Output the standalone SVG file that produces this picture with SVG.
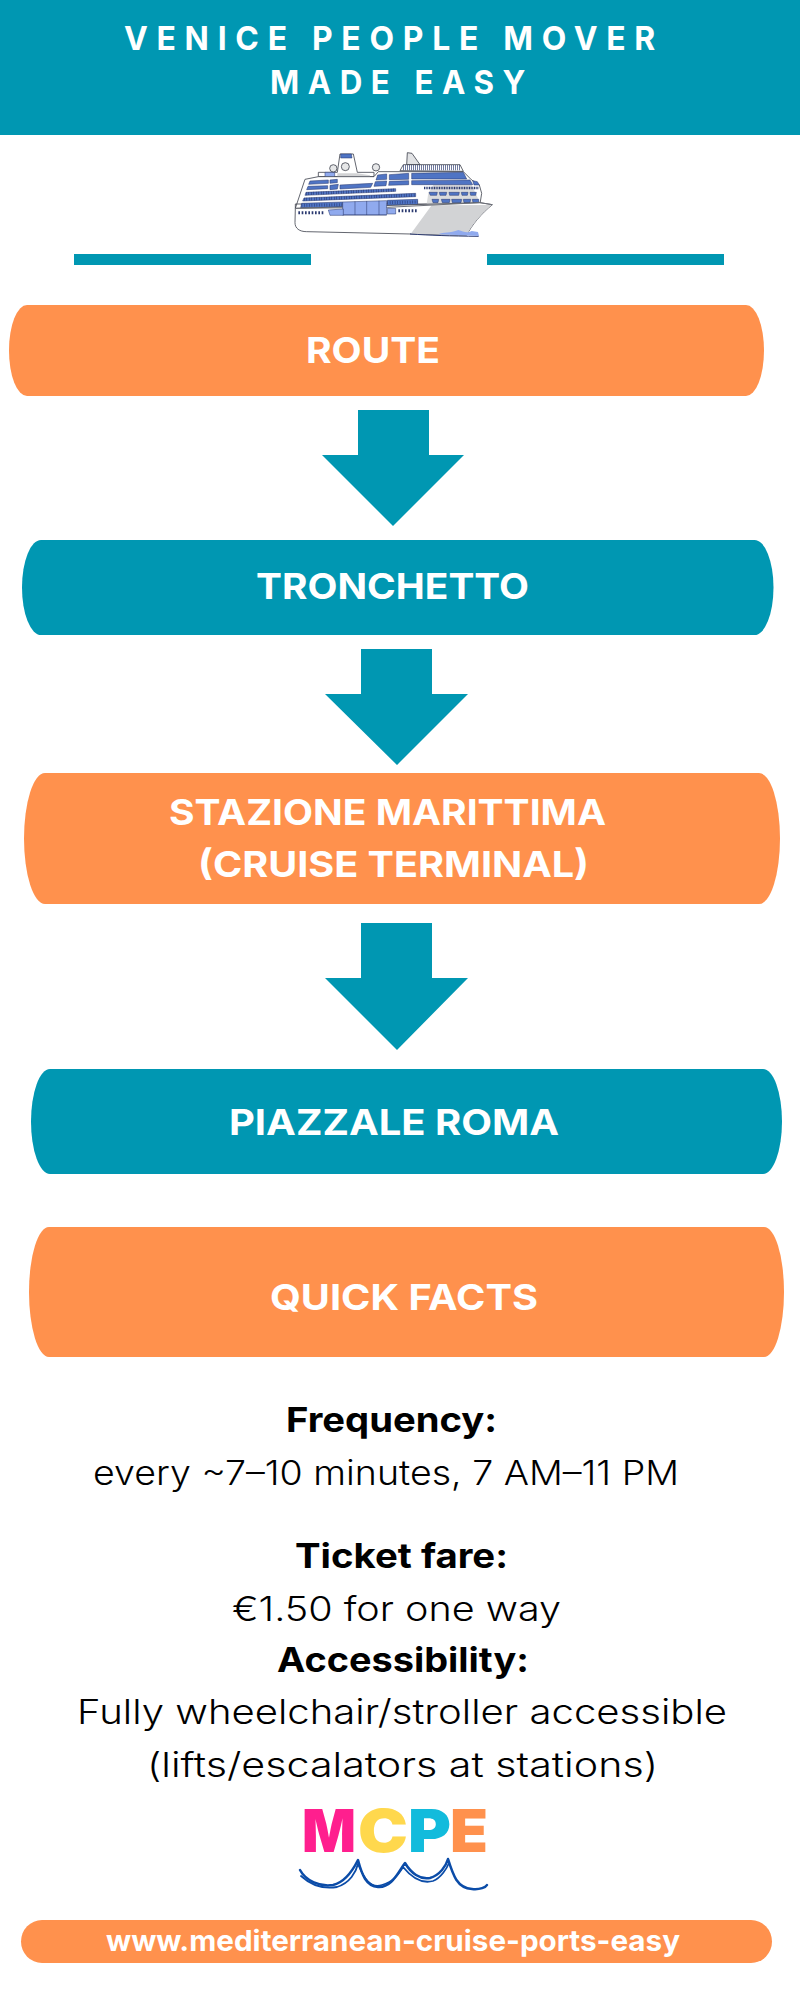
<svg xmlns="http://www.w3.org/2000/svg" width="800" height="2000" viewBox="0 0 800 2000">
<style>
text{font-family:"Inter","Open Sans","Liberation Sans",sans-serif}
.teal{fill:#0097b2}.orange{fill:#ff914d}
.h{fill:#fff;font-size:33px;font-weight:700;letter-spacing:9px}
.p{fill:#fff;font-size:36px;font-weight:700}
.b{fill:#000;font-size:34px;font-weight:700}
.r{fill:#000;font-size:34px;font-weight:300}
.u{fill:#fff;font-size:29px;font-weight:700}
.m{font-size:59px;font-weight:900}
.s{stroke:#3b3f4a;stroke-width:2.4;stroke-linejoin:round;fill:#fff}
.w{fill:#4f74c4;stroke:#2b3a70;stroke-width:1.6;stroke-linejoin:round}
.l{fill:#90aaee;stroke:#2b3a70;stroke-width:1.6}
.g{fill:#d2d3d5}
.wave{fill:none;stroke:#0b4ca8;stroke-linecap:round;stroke-linejoin:round}
</style>
<rect width="800" height="2000" fill="#fff"/>
<g id="header">
<rect class="teal" width="800" height="135"/>
<text class="h" x="124" y="50" textLength="540" lengthAdjust="spacingAndGlyphs">VENICE PEOPLE MOVER</text>
<text class="h" x="270" y="94" textLength="264" lengthAdjust="spacingAndGlyphs">MADE EASY</text>
</g>
<g id="ship" transform="translate(250 130) scale(.33333)">
<path class="s" d="M205,140V127H262L270,72H310L322,127H372V140Z"/>
<path class="w" d="M272,72H304L306,84H272Z"/>
<path class="l" d="M225,127H254V142H225Z"/>
<path class="g" d="M262,130H322L360,136V148H262Z"/>
<circle class="s" cx="250" cy="115" r="11" style="fill:#e6e7e8"/>
<circle class="s" cx="286" cy="110" r="12" style="fill:#e6e7e8"/>
<circle class="s" cx="378" cy="112" r="11" style="fill:#e6e7e8"/>
<path class="s" d="M472,68L486,70L510,104H470Z" style="fill:#e2e3e5"/>
<path class="s" d="M136,235L165,148L205,140L372,140L385,125H640L665,150L688,165L695,190L690,222H136Z"/>
<path class="s" d="M450,122L460,104H630L640,124Z"/>
<path d="M460,113H630" fill="none" stroke="#2b3a70" stroke-width="16" stroke-dasharray="2 4"/>
<path class="g" d="M535,190L550,165H665L692,222H530Z" opacity=".8"/>
<path class="w" d="M180,153L235,150V160L176,163Z"/>
<path class="w" d="M240,150L262,148V158L240,160Z"/>
<path class="w" d="M174,169L233,167V176L170,179Z"/>
<path class="w" d="M240,166L265,163L262,177L240,179Z"/>
<path class="w" d="M270,165L368,160L362,172L270,177Z"/>
<path class="w" d="M383,135L410,132V148L378,150Z"/>
<path class="w" d="M418,134L476,130V148L418,149Z"/>
<path class="w" d="M376,155L410,153L408,167L372,169Z"/>
<path class="w" d="M418,154L476,152V164L416,166Z"/>
<path class="w" d="M485,130L640,127L650,147H485Z"/>
<path class="w" d="M485,152L660,150L668,164H485Z"/>
<path class="w" d="M668,152L682,155L688,165L672,165Z"/>
<path class="w" d="M168,187L437,176V184L165,196Z"/>
<path class="w" d="M162,204L497,190V200L158,213Z"/>
<path class="w" d="M155,220L278,216V232L152,233Z"/>
<path class="w" d="M412,211L503,208V224L412,226Z"/>
<path d="M168,191L437,180M162,208L497,195M155,226L278,224M412,218L503,216" fill="none" stroke="#233066" stroke-width="9" stroke-dasharray="1.5 6"/>
<path d="M522,174H685" fill="none" stroke="#2b3a70" stroke-width="8" stroke-dasharray="3 2"/>
<path class="w" d="M537,187H562L560,196H541ZM568,187H590L588,196H570ZM597,187H628L626,196H599ZM634,187H654L652,196H636ZM660,187H679L677,196H662Z"/>
<path class="w" d="M546,208H566L564,218H549ZM574,208H600L598,218H577ZM605,208H635L633,218H607ZM640,208H662L660,218H642ZM667,208H686V218H669Z"/>
<path class="s" d="M136,235L690,218L727,224C695,250 665,285 650,316L480,312L170,305C148,305 135,295 135,278Z"/>
<path class="g" d="M545,226L725,225C695,250 665,285 650,315L482,312Z"/>
<path class="s" d="M136,235L412,232L690,218L727,224" style="fill:none;stroke:#6d7078;stroke-width:3"/>
<path class="l" d="M278,216L410,212V255H278Z"/>
<path d="M315,214V255M350,213V255M387,212V255M278,255H410" fill="none" stroke="#2b3a70" stroke-width="1.6"/>
<path class="l" d="M235,240L280,237V256H240Z"/>
<path class="l" d="M412,235H437V252H412Z"/>
<path d="M145,248H224M445,242H502" fill="none" stroke="#2b3a70" stroke-width="9" stroke-dasharray="5 5"/>
<path d="M480,312C540,316 600,318 686,319" fill="none" stroke="#2b3a70" stroke-width="3"/>
<path d="M565,313C580,305 600,310 625,300C640,303 650,312 665,303L684,306L687,318Z" fill="#90aaee"/>
</g>
<g id="title-rules" class="teal">
<rect x="74" y="254" width="237" height="11"/>
<rect x="487" y="254" width="237" height="11"/>
</g>
<g id="connectors" class="teal">
<path d="M358,410H429V455H464L393,526L322,455H358Z"/>
<path d="M361,649H432V694H468L397,765L325,694H361Z"/>
<path d="M361,923H432V978H468L397,1050L325,978H361Z"/>
</g>
<g id="route">
<rect class="orange" x="9" y="305" width="755" height="91" rx="18" ry="45.500"/>
<text class="p" x="306" y="363" textLength="134" lengthAdjust="spacingAndGlyphs">ROUTE</text>
</g>
<g id="tronchetto">
<rect class="teal" x="22" y="540" width="751.500" height="95" rx="19" ry="47.500"/>
<text class="p" x="256" y="599" textLength="273" lengthAdjust="spacingAndGlyphs">TRONCHETTO</text>
</g>
<g id="stazione">
<rect class="orange" x="24" y="773" width="756" height="131" rx="21" ry="65.500"/>
<text class="p" x="169" y="825" textLength="437" lengthAdjust="spacingAndGlyphs">STAZIONE MARITTIMA</text>
<text class="p" x="198" y="877" textLength="391" lengthAdjust="spacingAndGlyphs">(CRUISE TERMINAL)</text>
</g>
<g id="piazzale">
<rect class="teal" x="31" y="1069" width="751" height="105" rx="19" ry="52.500"/>
<text class="p" x="229" y="1135" textLength="330" lengthAdjust="spacingAndGlyphs">PIAZZALE ROMA</text>
</g>
<g id="quick-facts">
<rect class="orange" x="29" y="1227" width="755" height="130" rx="20" ry="65"/>
<text class="p" x="270" y="1310" textLength="268" lengthAdjust="spacingAndGlyphs">QUICK FACTS</text>
</g>
<g id="facts">
<text class="b" x="286" y="1432" textLength="211" lengthAdjust="spacingAndGlyphs">Frequency:</text>
<text class="r" x="93" y="1485" textLength="586" lengthAdjust="spacingAndGlyphs">every ~7–10 minutes, 7 AM–11 PM</text>
<text class="b" x="295" y="1568" textLength="213" lengthAdjust="spacingAndGlyphs">Ticket fare:</text>
<text class="r" x="232" y="1621" textLength="329" lengthAdjust="spacingAndGlyphs">€1.50 for one way</text>
<text class="b" x="277" y="1672" textLength="252" lengthAdjust="spacingAndGlyphs">Accessibility:</text>
<text class="r" x="77" y="1724" textLength="650" lengthAdjust="spacingAndGlyphs">Fully wheelchair/stroller accessible</text>
<text class="r" x="147" y="1777" textLength="511" lengthAdjust="spacingAndGlyphs">(lifts/escalators at stations)</text>
</g>
<g id="logo">
<text class="m" x="302" y="1852" fill="#ff1f8e" textLength="54" lengthAdjust="spacingAndGlyphs">M</text>
<text class="m" x="358" y="1852" fill="#ffd84d" textLength="50" lengthAdjust="spacingAndGlyphs">C</text>
<text class="m" x="408" y="1852" fill="#12bbdc" textLength="43" lengthAdjust="spacingAndGlyphs">P</text>
<text class="m" x="450" y="1852" fill="#ff914d" textLength="38" lengthAdjust="spacingAndGlyphs">E</text>
<path class="wave" stroke-width="2.500" d="M300,1870C306,1881 320,1887 333,1885C346,1882 354,1868 358,1860C362,1875 366,1886 378,1887C392,1888 398,1872 405,1863C411,1873 420,1880 430,1878C440,1875 446,1866 448,1859C453,1875 457,1888 472,1889C480,1890 486,1887 487,1885"/>
<path class="wave" stroke-width="1.800" d="M301,1876C312,1886 325,1889 337,1887C350,1883 356,1872 358,1864C364,1878 370,1889 382,1885C393,1882 398,1875 403,1867C412,1878 422,1884 433,1881C441,1878 447,1868 449,1863"/>
</g>
<g id="website">
<rect class="orange" x="21" y="1920" width="751" height="43" rx="21" ry="21.500"/>
<text class="u" x="106" y="1951" textLength="574" lengthAdjust="spacingAndGlyphs">www.mediterranean-cruise-ports-easy</text>
</g>
</svg>
